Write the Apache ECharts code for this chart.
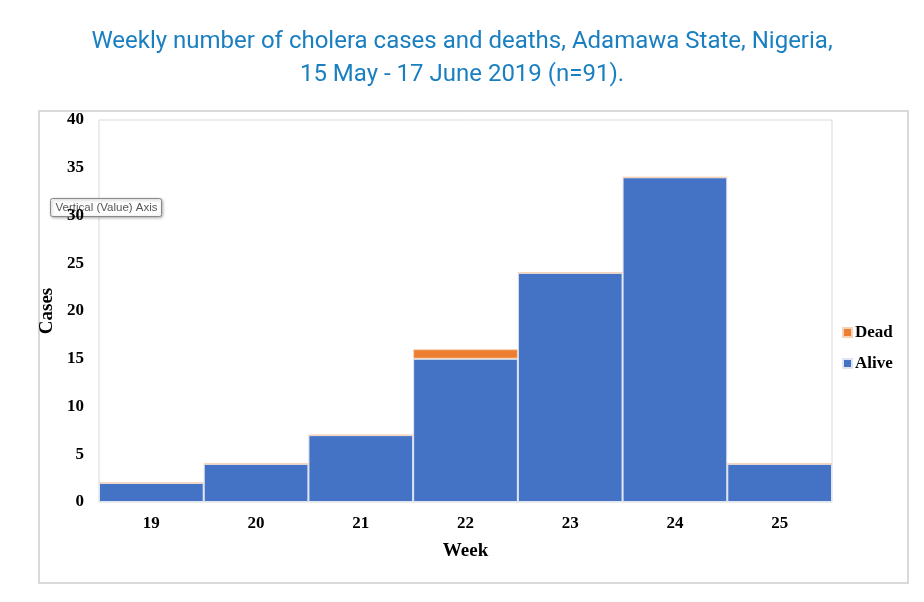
<!DOCTYPE html>
<html>
<head>
<meta charset="utf-8">
<script src="https://cdn.jsdelivr.net/npm/echarts@6/dist/echarts.min.js"></script>
<style>
  html, body { margin: 0; padding: 0; background: #fff; }
  #chart { width: 924px; height: 602px; }
</style>
</head>
<body>
<div id="chart"></div>
<script>
const weeks = ["19", "20", "21", "22", "23", "24", "25"];
const alive = [2, 4, 7, 15, 24, 34, 4];
const dead = [0, 0, 0, 1, 0, 0, 0];

const serif = "'Liberation Serif', 'DejaVu Serif', serif";
const titleFont = "'Liberation Sans Narrow', Roboto, 'Liberation Sans', sans-serif";

let myChart = echarts.init(document.getElementById("chart"));

const option = {
  animation: false,
  color: ["#ed7d31", "#4472c4"],
  title: {
    text: "Weekly number of cholera cases and deaths, Adamawa State, Nigeria,\n15 May - 17 June 2019 (n=91).",
    left: "center",
    top: 20,
    textStyle: {
      color: "#1a7fc1",
      fontFamily: titleFont,
      fontSize: 24,
      fontWeight: "normal",
      lineHeight: 33
    }
  },
  graphic: [
    {
      type: "rect",
      shape: { x: 39, y: 111, width: 869, height: 472 },
      style: { fill: "none", stroke: "#d9d9d9", lineWidth: 2 },
      z: 0
    },
    {
      type: "group",
      left: 50,
      top: 198,
      z: 100,
      children: [
        {
          type: "rect",
          shape: { x: 0, y: 0, width: 111, height: 18, r: 2 },
          style: {
            fill: "#fdfdfd",
            stroke: "#8a8a8a",
            lineWidth: 1,
            shadowBlur: 3,
            shadowColor: "rgba(0,0,0,0.3)",
            shadowOffsetX: 1,
            shadowOffsetY: 1
          }
        },
        {
          type: "text",
          x: 5,
          y: 3,
          style: {
            text: "Vertical (Value) Axis",
            fill: "#575757",
            font: "11.5px 'Liberation Sans', Arial, sans-serif"
          }
        }
      ]
    }
  ],
  legend: {
    orient: "vertical",
    left: 837,
    top: 319,
    itemWidth: 9,
    itemHeight: 9,
    itemGap: 14,
    icon: "rect",
    data: ["Dead", "Alive"],
    textStyle: {
      fontFamily: serif,
      fontWeight: "bold",
      fontSize: 17,
      color: "#000",
      padding: [0, 0, 0, -2]
    }
  },
  grid: {
    left: 99,
    right: 92,
    top: 120,
    bottom: 100,
    show: true,
    borderColor: "#d9d9d9",
    borderWidth: 1,
    backgroundColor: "transparent"
  },
  xAxis: {
    type: "category",
    data: weeks,
    name: "Week",
    nameLocation: "middle",
    nameGap: 40,
    nameTextStyle: {
      fontFamily: serif,
      fontWeight: "bold",
      fontSize: 19,
      color: "#000"
    },
    axisLine: { show: false },
    axisTick: { show: false },
    axisLabel: {
      margin: 13,
      fontFamily: serif,
      fontWeight: "bold",
      fontSize: 17,
      color: "#000"
    }
  },
  yAxis: {
    type: "value",
    min: 0,
    max: 40,
    interval: 5,
    name: "Cases",
    nameLocation: "middle",
    nameGap: 38,
    nameTextStyle: {
      fontFamily: serif,
      fontWeight: "bold",
      fontSize: 19,
      color: "#000"
    },
    axisLine: { show: false },
    axisTick: { show: false },
    splitLine: { show: false },
    axisLabel: {
      margin: 15,
      fontFamily: serif,
      fontWeight: "bold",
      fontSize: 17,
      color: "#000"
    }
  },
  series: [
    {
      name: "Alive",
      type: "bar",
      stack: "cases",
      barCategoryGap: "0%",
      data: alive,
      itemStyle: { color: "#4472c4", borderColor: "#dfe6f3", borderWidth: 1 }
    },
    {
      name: "Dead",
      type: "bar",
      stack: "cases",
      barCategoryGap: "0%",
      data: dead,
      itemStyle: { color: "#ed7d31", borderColor: "#f5d2b8", borderWidth: 1 }
    }
  ]
};

myChart.setOption(option);
</script>
</body>
</html>
